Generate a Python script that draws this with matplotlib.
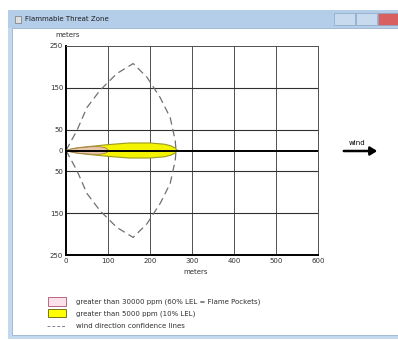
import matplotlib.pyplot as plt
from matplotlib.patches import Rectangle, Polygon, FancyArrowPatch

W, H = 398, 340

# footprint shapes (meters downwind, half-width meters)
yellow_x = [0, 10, 25, 50, 100, 150, 200, 235, 250, 260, 266]
yellow_hw = [0, 3, 6, 9, 14, 18, 18, 15, 11, 6, 0]
pink_x = [0, 15, 35, 60, 80, 92, 98, 100]
pink_hw = [0, 4, 7, 9, 9, 7, 4, 0]

# wind direction confidence lines (upper half, mirrored below)
conf_x = [0, 26, 50, 81, 121, 160, 193, 224, 248, 260, 262]
conf_y = [0, 48, 103, 144, 184, 208, 175, 127, 79, 24, 0]

x_ticks = [0, 100, 200, 300, 400, 500, 600]
y_ticks = [250, 150, 50, 0, -50, -150, -250]
legend_labels = ["greater than 30000 ppm (60% LEL = Flame Pockets)",
                 "greater than 5000 ppm (10% LEL)",
                 "wind direction confidence lines"]


def fx(px):
    return px / W


def fy(py):
    return 1 - py / H


fig = plt.figure(figsize=(W / 100, H / 100), dpi=100)


def box(x0, y0, x1, y1, z=-5, **kw):
    # rectangle given in pixel coords (top-left origin)
    fig.patches.append(Rectangle((fx(x0), fy(y1)), (x1 - x0) / W, (y1 - y0) / H,
                                 transform=fig.transFigure, zorder=z, **kw))


# window chrome
box(8, 10, 398, 339, facecolor='#c4d8ee', edgecolor='none', z=-10)
box(12, 28, 398, 335, facecolor='white', edgecolor='#9ab4d0', lw=0.6, z=-9)
box(8, 10, 398, 28, facecolor='#b4cde8', edgecolor='none', z=-9)
box(334, 13, 355, 25, facecolor='#c8daee', edgecolor='#8aa4c4', lw=0.5, z=-8)
box(356, 13, 377, 25, facecolor='#c8daee', edgecolor='#8aa4c4', lw=0.5, z=-8)
box(378, 13, 398, 25, facecolor='#d86060', edgecolor='#8aa4c4', lw=0.5, z=-8)
box(15, 16, 21, 23, facecolor='#e0e0e0', edgecolor='#606060', lw=0.4, z=-8)
fig.text(fx(25), fy(19), "Flammable Threat Zone", fontsize=5, va='center',
         ha='left', color='#202020')

ax = fig.add_axes([fx(66), fy(255), (318 - 66) / W, (255 - 46) / H])
ax.set_zorder(2)
ax.set_facecolor('white')
ax.set_xlim(0, 600)
ax.set_ylim(-250, 250)

for xv in x_ticks[1:]:
    ax.axvline(xv, color='#505050', lw=0.7)
for yv in [150, 50, -50, -150]:
    ax.axhline(yv, color='#303030', lw=0.8)

ax.add_patch(Polygon(list(zip(yellow_x, yellow_hw)) +
                     list(zip(yellow_x[::-1], [-v for v in yellow_hw[::-1]])),
                     closed=True, facecolor='#f4f400', edgecolor='#9a9a20',
                     lw=0.8, zorder=3))
ax.add_patch(Polygon(list(zip(pink_x, pink_hw)) +
                     list(zip(pink_x[::-1], [-v for v in pink_hw[::-1]])),
                     closed=True, facecolor='#e8c8a8', edgecolor='#a87850',
                     lw=0.6, zorder=4))
ax.plot([0, 600], [0, 0], color='black', lw=1.4, zorder=5)

ax.plot(conf_x, conf_y, color='#707070', lw=0.9, ls=(0, (6, 3.5)), zorder=2)
ax.plot(conf_x, [-v for v in conf_y], color='#707070', lw=0.9, ls=(0, (6, 3.5)), zorder=2)

ax.set_xticks(x_ticks)
ax.set_xticklabels([str(v) for v in x_ticks])
ax.set_yticks(y_ticks)
ax.set_yticklabels([str(abs(v)) for v in y_ticks])
ax.tick_params(length=0, labelsize=5, pad=2, colors='#303030')
for side in ['left', 'bottom']:
    ax.spines[side].set_linewidth(1.4)
for side in ['top', 'right']:
    ax.spines[side].set_linewidth(0.7)
    ax.spines[side].set_color('#505050')

fig.text(fx(68), fy(35), "meters", fontsize=5, ha='center', va='center', color='#303030')
fig.text(fx(196), fy(272), "meters", fontsize=5, ha='center', va='center', color='#303030')

# wind arrow
fig.text(fx(357), fy(143), "wind", fontsize=5, ha='center', va='center')
fig.add_artist(FancyArrowPatch(
    (fx(341), fy(151)), (fx(380), fy(151)), transform=fig.transFigure,
    arrowstyle='-|>,head_length=4,head_width=2.5', lw=1.8, color='black',
    mutation_scale=1))

# legend
box(48, 297, 66, 306, facecolor='#fbe2ea', edgecolor='#b05070', lw=0.6, z=1)
box(48, 309, 66, 317, facecolor='#ffff00', edgecolor='#606000', lw=0.6, z=1)
fig.add_artist(plt.Line2D([fx(47), fx(66)], [fy(326), fy(326)], transform=fig.transFigure,
                          color='#8080a0', lw=0.7, ls=(0, (3, 2))))
for i, lab in enumerate(legend_labels):
    fig.text(fx(76), fy(302 + 12 * i), lab, fontsize=5, ha='left', va='center',
             color='#303030')

fig.savefig('out.png', dpi=100)
